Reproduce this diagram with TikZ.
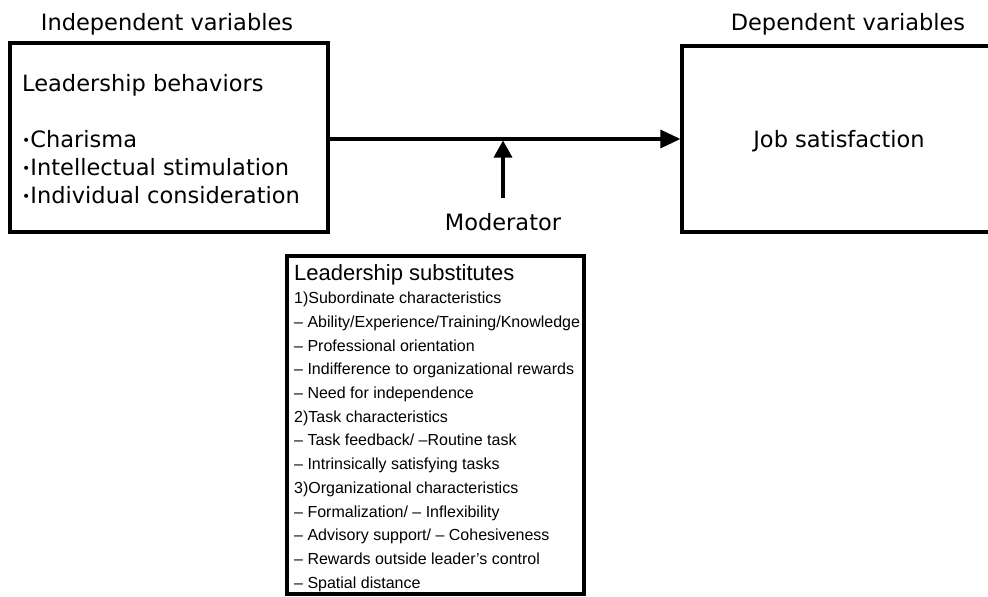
\documentclass[tikz,border=0pt]{standalone}
\usepackage{fontspec}
\setmainfont{DejaVu Sans}
\newfontfamily\listfont[Ligatures=TeX]{Liberation Sans}
\usetikzlibrary{arrows.meta}
\tikzset{
  box/.style={draw, line width=3.2pt, rectangle, inner sep=0pt},
  bigtxt/.style={font=\fontsize{22.5}{24}\selectfont, inner sep=0pt},
  headtxt/.style={font=\listfont\fontsize{22}{24}\selectfont, inner sep=0pt},
  listtxt/.style={font=\listfont\fontsize{16}{20}\selectfont, inner sep=0pt},
  arr/.style={line width=3.2pt, -{Triangle[length=20pt,width=18pt]}},
  modarr/.style={line width=3.2pt, -{Triangle[length=17pt,width=18pt]}}
}
\begin{document}
\begin{tikzpicture}[x=1pt,y=-1pt]
\useasboundingbox (0,0) rectangle (988,597);
% boxes
\node[box, minimum width=318pt, minimum height=189pt] (lb) at (169,137.5) {};
\node[box, minimum width=310pt, minimum height=186pt] (js) at (837,139) {};
\node[box, minimum width=297pt, minimum height=338pt] (ls) at (435.5,425) {};
% headings
\node[bigtxt, anchor=base] (indep) at (167,30) {Independent variables};
\node[bigtxt, anchor=base] (dep) at (848,30) {Dependent variables};
% left box text
\node[bigtxt, anchor=base west] (lbt) at (22,91) {Leadership behaviors};
\node[bigtxt, anchor=base west] (b1) at (22,147) {{\fontsize{14}{14}\selectfont\raisebox{2pt}{•}}Charisma};
\node[bigtxt, anchor=base west] (b2) at (22,175) {{\fontsize{14}{14}\selectfont\raisebox{2pt}{•}}Intellectual stimulation};
\node[bigtxt, anchor=base west] (b3) at (22,203) {{\fontsize{14}{14}\selectfont\raisebox{2pt}{•}}Individual consideration};
% right box text
\node[bigtxt, anchor=base] (jst) at (839,147) {Job satisfaction};
% moderator
\node[bigtxt, anchor=base] (mod) at (503,230) {Moderator};
\coordinate (modtail) at (503,198);
\coordinate (modtip) at (503,140.5);
% arrows
\draw[arr] (lb.east |- js.west) -- (js.west);
\draw[modarr] (modtail) -- (modtip);
% bottom box text
\node[headtxt, anchor=base west] (lst) at (294,280) {Leadership substitutes};
\foreach \t [count=\i] in {
1)Subordinate characteristics,
– Ability/Experience/Training/Knowledge,
– Professional orientation,
– Indifference to organizational rewards,
– Need for independence,
2)Task characteristics,
– Task feedback/ –Routine task,
– Intrinsically satisfying tasks,
3)Organizational characteristics,
– Formalization/ – Inflexibility,
– Advisory support/ – Cohesiveness,
– Rewards outside leader’s control,
– Spatial distance}
  \node[listtxt, anchor=base west] (l\i) at (294,{280+23.7*\i}) {\t};
\end{tikzpicture}
\end{document}
